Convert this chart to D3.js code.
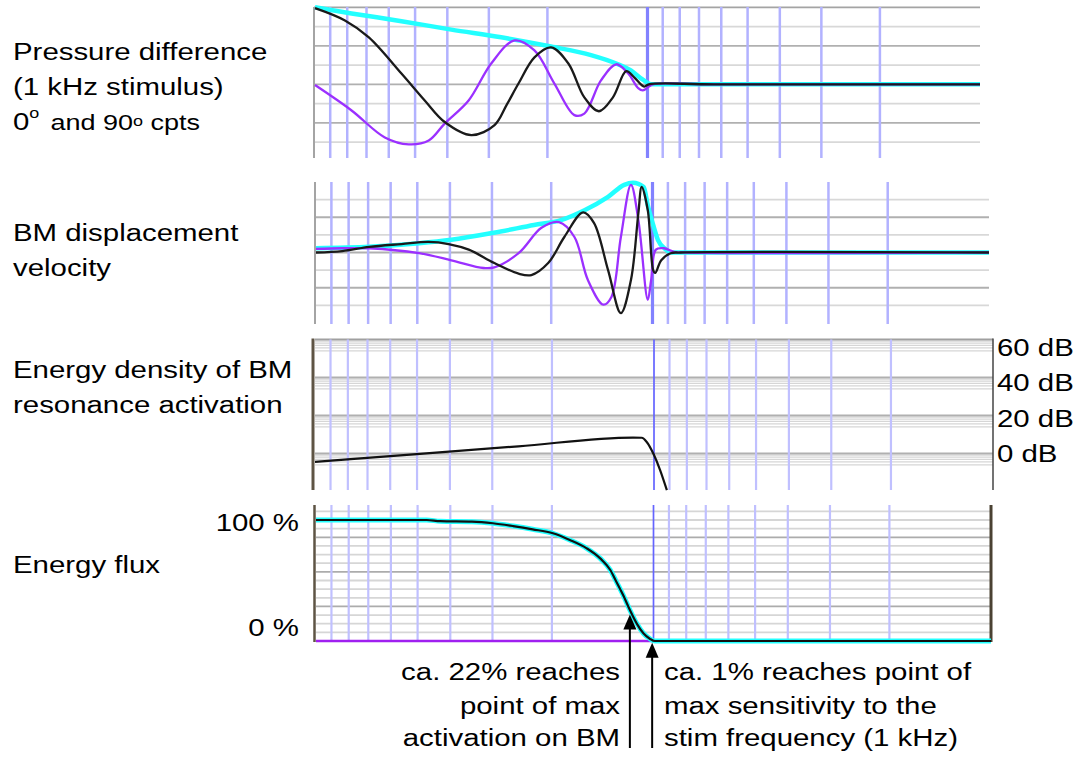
<!DOCTYPE html>
<html>
<head>
<meta charset="utf-8">
<script src="https://cdn.jsdelivr.net/npm/d3@7"></script>
<style>
body { margin: 0; background: #fff; }
text { font-family: Arial, "Liberation Sans", sans-serif; fill: #000; }
</style>
</head>
<body>
<div id="chart"></div>
<script>
// x axis of every panel = place along the BM, base (10 kHz) left, apex (100 Hz) right
// place is given in % of panel width, grid lines are characteristic frequencies
var gridFreqs = [9000, 8000, 7000, 6000, 5000, 4000, 3000, 2000, 900, 800, 700, 600, 500, 400, 300, 200];
var stimFreq = 1000;

// Panel 1 - pressure difference, [place %, amplitude %]
var pressure0 = [[0, 99], [4.5, 83], [8.1, 61], [13, 14], [16.5, -21], [19.5, -49], [23.5, -66], [27, -53],
    [28.8, -27], [30.6, 1], [33, 35], [35.5, 48], [38.1, 27], [40.5, -17], [42.7, -35], [44.8, -17],
    [46.8, 17], [48, 9], [49.5, -3], [50.2, 0], [60, 0], [100, 0]];
var pressure90 = [[0, -1], [5.5, -34], [10.5, -69], [14.1, -78], [17.1, -73], [19.5, -51], [23.1, -21],
    [26.5, 27], [30, 57], [33, 44], [36, 1], [39, -40], [40.5, -38], [43, 5], [45.3, 26], [47.1, 14],
    [48.6, -5], [49.3, -8], [50.2, -3], [50.8, 0], [60, 0], [100, 0]];
var pressureEnv = [[0, 100], [5.5, 92], [13, 82], [20.5, 71], [28, 61], [35.5, 49], [41.5, 38], [45.3, 27],
    [47.5, 18], [49.3, 6], [50.5, 0], [100, 0]];

// Panel 2 - BM displacement velocity
var velocity0 = [[0, 0], [3.9, 2], [7.9, 8], [12.7, 12], [16.7, 15], [19.7, 12], [22.7, 4], [26.5, -15],
    [30.1, -30], [32, -32], [34.5, -15], [36.9, 22], [39.7, 57], [41.3, 42], [43.4, -25], [45.3, -86],
    [46.8, -39], [47.9, 56], [48.4, 93], [49.3, 60], [50.1, -25], [50.4, -29], [51.3, -11], [52.7, -1],
    [54.2, 0], [100, 0]];
var velocity90 = [[0, 5], [3.9, 6], [7.9, 6], [15.3, -1], [20.1, -11], [24.9, -22], [26.5, -21], [30.1, -1],
    [33.5, 35], [36.1, 43], [38.4, 22], [40.4, -39], [42.7, -74], [43.9, -63], [45.3, 22], [46.8, 96],
    [47.9, 46], [49.3, -67], [49.8, -39], [50.5, 4], [51.7, 6], [53.2, 1], [55, 0], [100, 0]];
var velocityEnv = [[0, 6], [7.9, 8], [15.3, 13], [20.1, 18], [26.4, 28], [32.4, 39], [36.4, 46], [39.9, 60],
    [43.4, 79], [45.8, 96], [47.1, 99], [48.7, 93], [49.3, 67], [50.1, 39], [50.8, 18], [51.9, 5],
    [52.7, 0], [100, 0]];

// Panel 3 - energy density, dB
var energyDensity = [[0, -4.4], [15, -0.3], [30, 3.8], [46.9, 8.4], [48.2, 8.3], [48.9, 6.2], [50, -0.8],
    [50.9, -8.7], [51.9, -19.3]];
var dbTicks = [60, 40, 20, 0];
var dbMinor = [-0.9, -1.9, -3.1, -4.4, -6.0];

// Panel 4 - energy flux, %
var energyFlux = [[0, 100], [16.4, 100], [18.4, 99], [23.1, 98.6], [26.2, 97.3], [29.2, 95], [32.1, 92.3],
    [35.1, 89], [37.6, 83.5], [40.1, 76.6], [42.1, 68.3], [43.6, 58.7], [44.5, 49], [45.5, 38],
    [46.5, 25.6], [47.5, 14.6], [48.5, 6.4], [49.5, 1.7], [50.2, 0], [100, 0]];
var fluxBase = [[0, 0], [50.2, 0]];
var fluxTicks = [100, 0];
var fluxGridStep = 100 / 14;

// arrows: place %, flux value at the tip
var arrowPlaces = [46.5, 49.8];
var arrowTips = [22, -1.5];

var svgWidth = 1084;
var svgHeight = 757;

var svg = d3.select("#chart")
    .append("svg")
    .attr("width", svgWidth)
    .attr("height", svgHeight);

var textStretch = 1.2;

// panel boxes
var p1 = {left: 315, right: 980, top: 7, bottom: 158};
var p2 = {left: 316, right: 989, top: 182, bottom: 324};
var p3 = {left: 315, right: 993, top: 339.5, bottom: 490};
var p4 = {left: 316, right: 991, top: 505, bottom: 641};

function placeScale(p) {
    return d3.scaleLinear().domain([0, 100]).range([p.left, p.right]);
}
function freqScale(p) {
    return d3.scaleLog().domain([10000, 100]).range([p.left, p.right]);
}

function vLine(g, x, y1, y2, color, width) {
    g.append("line")
        .attr("x1", x).attr("x2", x)
        .attr("y1", y1).attr("y2", y2)
        .attr("stroke", color)
        .attr("stroke-width", width);
}
function hLine(g, y, x1, x2, color, width) {
    g.append("line")
        .attr("x1", x1).attr("x2", x2)
        .attr("y1", y).attr("y2", y)
        .attr("stroke", color)
        .attr("stroke-width", width);
}

function freqGrid(g, p, stimColor, stimWidth) {
    var fx = freqScale(p);
    gridFreqs.forEach(function(f) {
        vLine(g, fx(f), p.top, p.bottom, "#b2b2ff", 2.5);
    });
    vLine(g, fx(stimFreq), p.top, p.bottom, stimColor, stimWidth);
}

function drawCurve(g, data, x, y, color, width, curve) {
    var line = d3.line()
        .x(d => x(d[0]))
        .y(d => y(d[1]))
        .curve(curve || d3.curveCatmullRom.alpha(0.5));
    g.append("path")
        .datum(data)
        .attr("d", line)
        .attr("fill", "none")
        .attr("stroke", color)
        .attr("stroke-width", width)
        .attr("stroke-linejoin", "round");
}

function label(x, y, str, anchor, size) {
    return svg.append("text")
        .attr("transform", `translate(${x},${y}) scale(${textStretch},1)`)
        .attr("text-anchor", anchor || "start")
        .style("font-size", (size || 24.5) + "px")
        .text(str);
}

function clipFor(id, p) {
    svg.append("clipPath").attr("id", id)
        .append("rect")
        .attr("x", p.left - 2).attr("y", p.top - 3)
        .attr("width", p.right - p.left + 4)
        .attr("height", p.bottom - p.top + 6);
    return svg.append("g").attr("clip-path", `url(#${id})`);
}

// ---------- Panel 1 ----------
var g1 = svg.append("g");
var x1 = placeScale(p1);
var y1 = d3.scaleLinear().domain([-100, 100]).range([161.3, 7.3]);
[-75, -50, -25, 0, 25, 50, 75].forEach(function(v) {
    hLine(g1, y1(v), p1.left, p1.right, v % 50 === 0 ? "#b0b0b0" : "#d8d8d8", 1.8);
});
hLine(g1, y1(100), p1.left - 1, p1.right, "#a4a4a4", 1.8);
freqGrid(g1, p1, "#8282ff", 3.2);
vLine(g1, p1.left - 1, p1.top, p1.bottom, "#a4a4a4", 2);
var c1 = clipFor("clip1", p1);
drawCurve(c1, pressureEnv, x1, y1, "#22ffff", 4.5, d3.curveMonotoneX);
drawCurve(c1, pressure90, x1, y1, "#9b30ff", 2.3);
drawCurve(c1, pressure0, x1, y1, "#1a1a1a", 2.3);

// ---------- Panel 2 ----------
var g2 = svg.append("g");
var x2 = placeScale(p2);
var y2 = d3.scaleLinear().domain([-100, 100]).range([323, 182]);
[-75, -50, -25, 0, 25, 50, 75].forEach(function(v) {
    hLine(g2, y2(v), p2.left, p2.right, v % 50 === 0 ? "#b0b0b0" : "#d8d8d8", 1.8);
});
freqGrid(g2, p2, "#8282ff", 3.2);
vLine(g2, p2.left - 1, p2.top, p2.bottom, "#a4a4a4", 2);
var c2 = clipFor("clip2", p2);
drawCurve(c2, velocityEnv, x2, y2, "#22ffff", 4.5, d3.curveMonotoneX);
drawCurve(c2, velocity90, x2, y2, "#9b30ff", 2.3);
drawCurve(c2, velocity0, x2, y2, "#1a1a1a", 2.3);

// ---------- Panel 3 ----------
var g3 = svg.append("g");
var x3 = placeScale(p3);
var y3 = d3.scaleLinear().domain([0, 60]).range([453.5, 339.5]);
dbTicks.forEach(function(db) {
    dbMinor.forEach(function(m) {
        hLine(g3, y3(db + m), p3.left, p3.right, "#d6d6d6", 1.3);
    });
    hLine(g3, y3(db), p3.left, p3.right, db === 60 ? "#a0a0a0" : "#b0b0b0", 1.8);
});
var fx3 = freqScale(p3);
gridFreqs.forEach(function(f) {
    vLine(g3, fx3(f), p3.top, p3.bottom, "#c0c0ff", 2.2);
});
vLine(g3, fx3(stimFreq), p3.top, p3.bottom, "#6464ff", 1.7);
vLine(g3, p3.left - 2, p3.top - 1, p3.bottom, "#5e5444", 3);
vLine(g3, p3.right, p3.top - 1, p3.bottom, "#444", 1.5);
var c3 = clipFor("clip3", p3);
drawCurve(c3, energyDensity, x3, y3, "#111", 2.2, d3.curveMonotoneX);

// dB labels on the right
dbTicks.forEach(function(db, i) {
    label(p3.right + 4, 356 + i * 35.3, db + " dB", "start");
});

// ---------- Panel 4 ----------
var g4 = svg.append("g");
var x4 = placeScale(p4);
var y4 = d3.scaleLinear().domain([0, 100]).range([641, 520]);
d3.range(1, 16).forEach(function(i) {
    hLine(g4, y4(i * fluxGridStep), p4.left, p4.right, i % 4 === 0 ? "#acacac" : "#d6d6d6", 1.8);
});
var fx4 = freqScale(p4);
gridFreqs.forEach(function(f) {
    vLine(g4, fx4(f), p4.top, p4.bottom, "#c0c0ff", 2.2);
});
vLine(g4, fx4(stimFreq), p4.top, p4.bottom, "#6464ff", 1.7);
vLine(g4, p4.left - 1.5, p4.top, p4.bottom + 1, "#5e5444", 2.5);
vLine(g4, p4.right, p4.top, p4.bottom + 1, "#4a4233", 3);
drawCurve(g4, fluxBase, x4, y4, "#a020f0", 2.4, d3.curveLinear);
drawCurve(g4, energyFlux, x4, y4, "#22ffff", 5, d3.curveMonotoneX);
drawCurve(g4, energyFlux, x4, y4, "#111", 2.2, d3.curveMonotoneX);

fluxTicks.forEach(function(v) {
    label(299, v === 100 ? 531 : 636, v + " %", "end");
});

// ---------- arrows ----------
arrowPlaces.forEach(function(pl, i) {
    var ax = x4(pl);
    var tip = y4(arrowTips[i]);
    svg.append("path")
        .attr("d", `M${ax},${tip} L${ax - 6.5},${tip + 15} L${ax + 6.5},${tip + 15} Z`)
        .attr("fill", "#000");
    vLine(svg, ax, tip + 14, 748, "#000", 2);
});

// ---------- text ----------
label(13, 60, "Pressure difference");
label(13, 95, "(1 kHz stimulus)");
var cpts = svg.append("text")
    .attr("transform", `translate(13,130) scale(${textStretch},1)`)
    .style("font-size", "24.5px");
cpts.append("tspan").text("0");
cpts.append("tspan").attr("dy", -12.5).style("font-size", "15px").text("o");
cpts.append("tspan").attr("dy", 12.5).attr("dx", 3).style("font-size", "22.5px").text(" and 90");
cpts.append("tspan").attr("dy", -4.5).style("font-size", "15px").text("o");
cpts.append("tspan").attr("dy", 4.5).style("font-size", "22.5px").text(" cpts");

label(13, 241, "BM displacement");
label(13, 276, "velocity");
label(13, 378, "Energy density of BM");
label(13, 413, "resonance activation");
label(13, 573, "Energy flux");

label(620, 680, "ca. 22% reaches", "end");
label(620, 714, "point of max", "end");
label(620, 746, "activation on BM", "end");
label(664, 680, "ca. 1% reaches point of");
label(664, 714, "max sensitivity to the");
label(664, 746, "stim frequency (1 kHz)");
</script>
</body>
</html>
